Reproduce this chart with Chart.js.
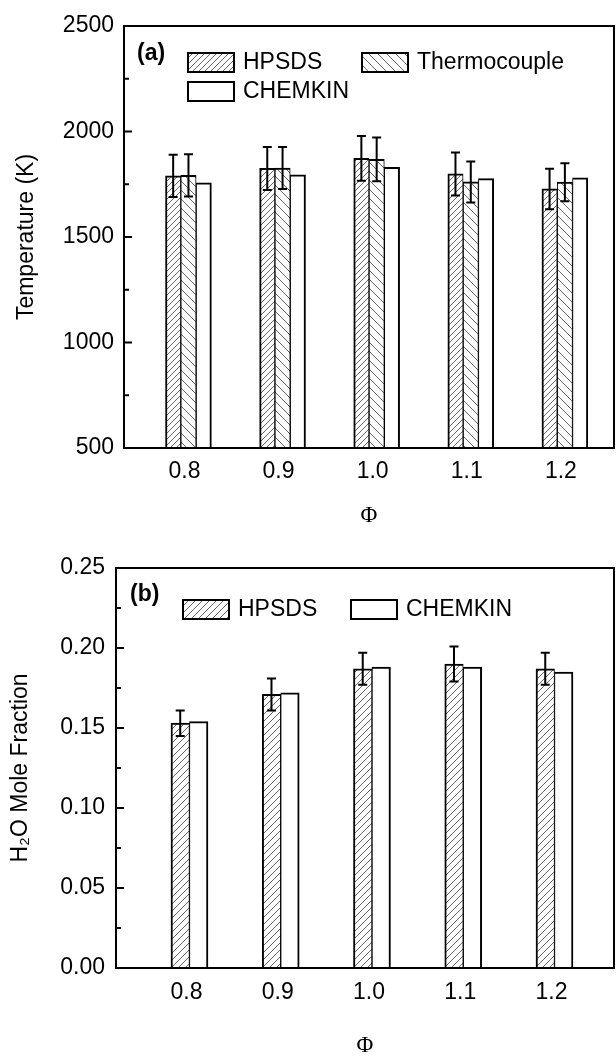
<!DOCTYPE html>
<html><head><meta charset="utf-8">
<script src="https://cdn.jsdelivr.net/npm/chart.js@4.4.0/dist/chart.umd.min.js"></script>
<style>html,body{margin:0;padding:0;background:#fff;}canvas{display:block;}</style>
</head><body>
<canvas id="c1" width="616" height="530"></canvas>
<canvas id="c2" width="616" height="530"></canvas>
<script>
// ---- data ----
const phi = [0.8, 0.9, 1.0, 1.1, 1.2];
const tempHPSDS = [1790, 1825, 1873, 1799, 1728];
const tempHPSDSErr = [100, 102, 106, 102, 96];
const tempThermo = [1792, 1827, 1868, 1761, 1760];
const tempThermoErr = [100, 100, 104, 97, 90];
const tempChemkin = [1757, 1795, 1830, 1777, 1781];
const tempTicks = [500, 1000, 1500, 2000, 2500];

const h2oHPSDS = [0.153, 0.171, 0.187, 0.190, 0.187];
const h2oHPSDSErr = [0.008, 0.010, 0.010, 0.011, 0.010];
const h2oChemkin = [0.154, 0.172, 0.188, 0.188, 0.185];
const h2oTicks = [0, 0.05, 0.10, 0.15, 0.20, 0.25];

Chart.defaults.font.family = '"Liberation Sans", Arial, sans-serif';
Chart.defaults.font.size = 23;
Chart.defaults.color = '#000';

function hatch(kind, size, color) {
  const c = document.createElement('canvas');
  c.width = size; c.height = size;
  const g = c.getContext('2d');
  g.fillStyle = '#fff'; g.fillRect(0, 0, size, size);
  g.strokeStyle = color; g.lineWidth = 1;
  g.beginPath();
  if (kind === '/') {
    g.moveTo(-1, size + 1); g.lineTo(size + 1, -1);
    g.moveTo(-1, 1); g.lineTo(1, -1);
    g.moveTo(size - 1, size + 1); g.lineTo(size + 1, size - 1);
  } else {
    g.moveTo(-1, -1); g.lineTo(size + 1, size + 1);
    g.moveTo(size - 1, -1); g.lineTo(size + 1, 1);
    g.moveTo(-1, size - 1); g.lineTo(1, size + 1);
  }
  g.stroke();
  return g.createPattern(c, 'repeat');
}

const decor = {
  id: 'decor',
  afterDatasetsDraw(chart, args, o) {
    const ctx = chart.ctx, a = chart.chartArea, ys = chart.scales.y;
    ctx.save();
    ctx.strokeStyle = '#000';
    chart.data.datasets.forEach((ds, i) => {
      if (!ds.errors) return;
      const meta = chart.getDatasetMeta(i);
      meta.data.forEach((bar, j) => {
        const v = ds.data[j].y, e = ds.errors[j];
        const yt = ys.getPixelForValue(v + e), yb = ys.getPixelForValue(v - e);
        ctx.lineWidth = 2;
        ctx.beginPath();
        ctx.moveTo(bar.x, yt); ctx.lineTo(bar.x, yb);
        ctx.moveTo(bar.x - 4.5, yt); ctx.lineTo(bar.x + 4.5, yt);
        ctx.moveTo(bar.x - 4.5, yb); ctx.lineTo(bar.x + 4.5, yb);
        ctx.stroke();
      });
    });
    ctx.lineWidth = 2;
    ctx.strokeRect(a.left, a.top, a.right - a.left, a.bottom - a.top);
    const n = Math.round((ys.max - ys.min) / o.minor);
    for (let k = 0; k <= n; k++) {
      const v = ys.min + k * o.minor;
      const y = ys.getPixelForValue(v);
      const major = (k % o.ratio) === 0;
      ctx.beginPath();
      ctx.moveTo(a.left, y); ctx.lineTo(a.left + (major ? 8 : 5), y);
      ctx.stroke();
    }
    ctx.fillStyle = '#000';
    ctx.textBaseline = 'middle'; ctx.textAlign = 'left';
    ctx.font = 'bold 23px "Liberation Sans", Arial, sans-serif';
    ctx.fillText(o.panel, o.panelX, o.panelY);
    ctx.font = '23px "Liberation Sans", Arial, sans-serif';
    o.legend.forEach(L => {
      const ds = chart.data.datasets[L.ds];
      ctx.fillStyle = ds.backgroundColor;
      ctx.fillRect(L.x, L.y, 46, 19);
      ctx.lineWidth = 2; ctx.strokeStyle = '#000';
      ctx.strokeRect(L.x, L.y, 46, 19);
      ctx.fillStyle = '#000';
      ctx.fillText(ds.label, L.x + 55, L.y + 10);
    });
    ctx.restore();
  }
};

function pts(vals) { return phi.map((x, i) => ({ x: x, y: vals[i] })); }

function build(id, o) {
  return new Chart(document.getElementById(id), {
    type: 'bar',
    data: { datasets: o.datasets },
    options: {
      responsive: false, animation: false,
      layout: { padding: { left: 0, top: o.top, right: 2, bottom: 0 } },
      plugins: { legend: { display: false }, tooltip: { enabled: false }, decor: o.decor },
      scales: {
        x: {
          type: 'linear', offset: false, min: o.xmin, max: o.xmax,
          afterBuildTicks: s => { s.ticks = phi.map(v => ({ value: v })); },
          afterFit: s => { s.height = o.xh; },
          grid: { display: false, drawTicks: false }, border: { display: false },
          ticks: { padding: o.xpad, labelOffset: o.xlo, autoSkip: false, maxRotation: 0, callback: v => Number(v).toFixed(1) },
          title: { display: true, text: 'Φ', font: { family: '"Liberation Serif", "Times New Roman", serif', size: 23 }, padding: { top: o.xtpad, bottom: 0 } }
        },
        y: {
          min: o.ymin, max: o.ymax,
          afterBuildTicks: s => { s.ticks = o.yticks.map(v => ({ value: v })); },
          afterFit: s => { s.width = o.yw; },
          grid: { display: false, drawTicks: false }, border: { display: false },
          ticks: { padding: o.ypad, callback: o.yfmt },
          title: { display: true, text: o.ytitle, padding: { top: o.ytpad, bottom: 0 } }
        }
      }
    },
    plugins: [decor]
  });
}

const hHatch = hatch('/', 6, '#666');
const tHatch = hatch('\\', 9, '#666');
const hHatch2 = hatch('/', 7, '#666');

build('c1', {
  top: 26, xh: 82, yw: 124, xmin: 0.7315, xmax: 1.2522, xpad: 10, xlo: -4, xtpad: 13, ypad: 10, ytpad: 13,
  ymin: 500, ymax: 2500, yticks: tempTicks, yfmt: v => String(v), ytitle: 'Temperature (K)',
  datasets: [
    { label: 'HPSDS', data: pts(tempHPSDS), errors: tempHPSDSErr, backgroundColor: hHatch, borderColor: '#000',
      borderWidth: { left: 2, right: 1, top: 2, bottom: 0 }, borderSkipped: false, barThickness: 15.3 },
    { label: 'Thermocouple', data: pts(tempThermo), errors: tempThermoErr, backgroundColor: tHatch, borderColor: '#000',
      borderWidth: { left: 1, right: 1, top: 2, bottom: 0 }, borderSkipped: false, barThickness: 15.3 },
    { label: 'CHEMKIN', data: pts(tempChemkin), backgroundColor: '#fff', borderColor: '#000',
      borderWidth: { left: 1, right: 2, top: 2, bottom: 0 }, borderSkipped: false, barThickness: 15.3 }
  ],
  decor: { minor: 250, ratio: 2, panel: '(a)', panelX: 137, panelY: 54,
    legend: [{ ds: 0, x: 188, y: 53 }, { ds: 1, x: 362, y: 53 }, { ds: 2, x: 188, y: 82 }] }
});

build('c2', {
  top: 38, xh: 92, yw: 116, xmin: 0.7195, xmax: 1.2652, xpad: 11, xlo: -3, xtpad: 13, ypad: 11, ytpad: 7,
  ymin: 0, ymax: 0.25, yticks: h2oTicks, yfmt: v => Number(v).toFixed(2), ytitle: 'H₂O Mole Fraction',
  datasets: [
    { label: 'HPSDS', data: pts(h2oHPSDS), errors: h2oHPSDSErr, backgroundColor: hHatch2, borderColor: '#000',
      borderWidth: { left: 2, right: 1, top: 2, bottom: 0 }, borderSkipped: false, barThickness: 18.5 },
    { label: 'CHEMKIN', data: pts(h2oChemkin), backgroundColor: '#fff', borderColor: '#000',
      borderWidth: { left: 1, right: 2, top: 2, bottom: 0 }, borderSkipped: false, barThickness: 18.5 }
  ],
  decor: { minor: 0.025, ratio: 2, panel: '(b)', panelX: 130, panelY: 65,
    legend: [{ ds: 0, x: 183, y: 70 }, { ds: 1, x: 351, y: 70 }] }
});
</script>
</body></html>
